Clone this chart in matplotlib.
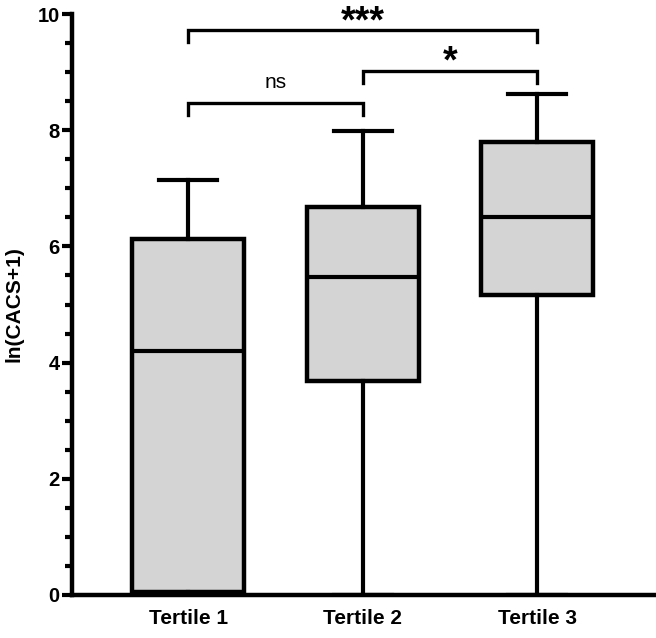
import matplotlib.pyplot as plt
from matplotlib.ticker import MultipleLocator

# Data
groups = ['Tertile 1', 'Tertile 2', 'Tertile 3']
whisk_lo = [0.0, 0.0, 0.0]
q1 = [0.05, 3.68, 5.16]
median = [4.2, 5.48, 6.5]
q3 = [6.13, 6.68, 7.80]
whisk_hi = [7.14, 7.99, 8.62]

# significance brackets: (left group, right group, bar height, label)
brackets = [(1, 2, 8.47, 'ns'), (2, 3, 9.02, '*'), (1, 3, 9.72, '***')]

plt.rcParams['font.family'] = ['Liberation Sans', 'DejaVu Sans']
plt.rcParams['font.weight'] = 'bold'

fig = plt.figure(figsize=(6.56, 6.38), dpi=100)
ax = fig.add_axes([0.1098, 0.0674, 0.8902, 0.9106])

stats = []
for i in range(len(groups)):
    stats.append({'whislo': whisk_lo[i], 'q1': q1[i], 'med': median[i],
                  'q3': q3[i], 'whishi': whisk_hi[i], 'label': groups[i]})

positions = [1, 2, 3]
ax.bxp(stats, positions=positions, widths=0.64, showfliers=False,
       patch_artist=True, capwidths=0.33,
       boxprops=dict(facecolor='#d4d4d4', edgecolor='black', linewidth=3.2),
       medianprops=dict(color='black', linewidth=3.0),
       whiskerprops=dict(color='black', linewidth=3.0),
       capprops=dict(color='black', linewidth=3.0))

for left, right, h, label in brackets:
    ax.plot([left, left, right, right], [h - 0.2, h, h, h - 0.2], color='black',
            linewidth=2.4, clip_on=False, solid_joinstyle='miter')
    if label == 'ns':
        ax.text((left + right) / 2, h + 0.18, label, ha='center', va='bottom',
                fontsize=15, fontweight='normal')
    else:
        ax.text((left + right) / 2, h - 0.03, label, ha='center', va='baseline',
                fontsize=27, fontweight='bold', clip_on=False)

ax.set_xlim(0.335, 3.68)
ax.set_ylim(0, 10)
ax.yaxis.set_major_locator(MultipleLocator(2))
ax.yaxis.set_minor_locator(MultipleLocator(0.5))
ax.set_ylabel('ln(CACS+1)', fontsize=15, fontweight='bold', labelpad=10)

ax.spines['top'].set_visible(False)
ax.spines['right'].set_visible(False)
ax.spines['left'].set_linewidth(3.2)
ax.spines['bottom'].set_linewidth(3.2)
ax.tick_params(axis='y', which='major', length=7, width=3, labelsize=14.5, pad=2)
ax.tick_params(axis='y', which='minor', length=5, width=3)
ax.tick_params(axis='x', length=0, labelsize=15, pad=10)
for lab in ax.get_xticklabels() + ax.get_yticklabels():
    lab.set_fontweight('bold')

plt.savefig('out.png', dpi=100)
